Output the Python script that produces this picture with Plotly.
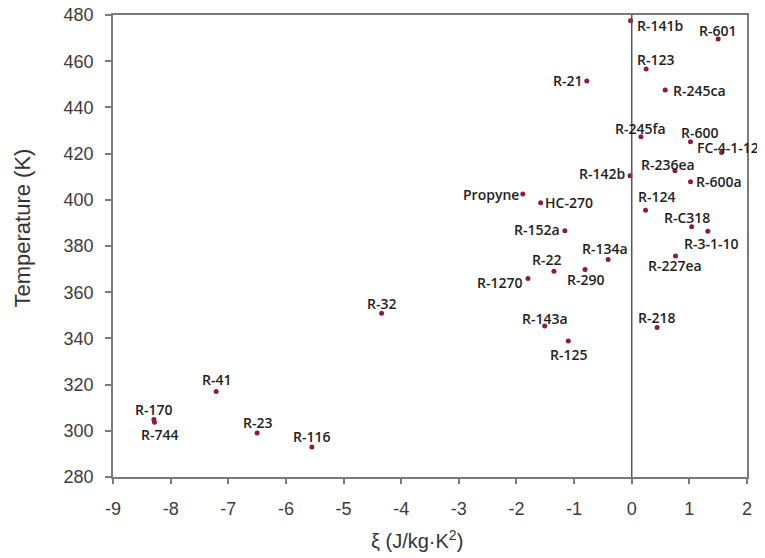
import plotly.graph_objects as go

# Refrigerant data: xi (J/kg·K²) vs temperature (K)
names = ["R-141b", "R-601", "R-123", "R-21", "R-245ca", "R-245fa", "R-600",
         "FC-4-1-12", "R-236ea", "R-142b", "R-600a", "Propyne", "HC-270",
         "R-124", "R-C318", "R-3-1-10", "R-152a", "R-227ea", "R-134a", "R-22",
         "R-290", "R-1270", "R-143a", "R-218", "R-125", "R-32", "R-41",
         "R-170", "R-744", "R-23", "R-116"]
xi = [-0.02, 1.50, 0.25, -0.78, 0.58, 0.16, 1.02,
      1.56, 0.75, -0.03, 1.02, -1.89, -1.58,
      0.24, 1.04, 1.32, -1.16, 0.76, -0.41, -1.35,
      -0.81, -1.80, -1.51, 0.44, -1.10, -4.34, -7.21,
      -8.29, -8.28, -6.50, -5.55]
temp = [477.5, 469.6, 456.6, 451.4, 447.5, 427.3, 425.1,
        420.5, 412.6, 410.4, 407.8, 402.5, 398.7,
        395.5, 388.3, 386.4, 386.6, 375.7, 374.2, 369.1,
        369.8, 365.9, 345.4, 344.7, 338.9, 350.9, 317.0,
        304.9, 303.7, 299.1, 293.0]
x_ticks = [-9, -8, -7, -6, -5, -4, -3, -2, -1, 0, 1, 2]
x_tick_labels = ["-9", "-8", "-7", "-6", "-5", "-4", "-3", "-2", "-1", "0", "1", "2"]
y_ticks = [280, 300, 320, 340, 360, 380, 400, 420, 440, 460, 480]

# label offsets in pixels (dx right, dy up) - styling only
label_dx = [29, -1, 9, -19, 34, 0, 9, 6, -7, -28, 28, -32, 28,
            11, -5, 3, -28, -1, -3, -7, 0, -28, 0, -1, 0, 0, 0, 0, 5, 0, 0]
label_dy = [-5, 9, 10, 1, 0, 8, 9, 5, 6, 2, 0, 0, 0,
            14, 9, -12, 1, -10, 11, 12, -10, -4, 7, 10, -14, 10, 12, 10, -12, 10, 10]

fig = go.Figure()
fig.add_trace(go.Scatter(
    x=xi, y=temp, mode="markers",
    marker=dict(color="#8e1b3d", size=5),
    hovertext=names, showlegend=False, cliponaxis=False))

# vertical line at xi = 0
fig.add_shape(type="line", x0=0, x1=0, y0=280, y1=480, xref="x", yref="y",
              line=dict(color="#555555", width=1.5))

axis_common = dict(showgrid=False, zeroline=False, showline=True,
                   linecolor="#7a7a7a", linewidth=1.8, mirror=True,
                   ticks="outside", tickcolor="#7a7a7a", tickwidth=1.5,
                   ticklabeloverflow="allow", automargin=False,
                   tickfont=dict(family="Liberation Sans", size=18, color="#3c3c3c"))

fig.update_layout(
    width=757, height=550,
    margin=dict(l=105, r=18, t=7, b=81, autoexpand=False),
    paper_bgcolor="white", plot_bgcolor="white",
    xaxis=dict(range=[-9, 2], tickvals=x_ticks, ticktext=x_tick_labels,
               ticklen=5, ticklabelstandoff=9, **axis_common),
    yaxis=dict(range=[280, 480], tickvals=y_ticks, ticklen=6, ticklabelstandoff=8,
               **axis_common),
)
for n, x, y, dx, dy in zip(names, xi, temp, label_dx, label_dy):
    fig.add_annotation(x=x, y=y, text=n, showarrow=False,
                       xshift=dx, yshift=dy,
                       font=dict(family="Open Sans", size=14, color="#1e1e1e", weight=600))

# axis titles
fig.add_annotation(x=0.48, y=-0.135, xref="paper", yref="paper",
                   text="ξ (J/kg·K<sup>2</sup>)", showarrow=False,
                   xanchor="center", yanchor="middle",
                   font=dict(family="Liberation Sans", size=20, color="#333333"))
fig.add_annotation(x=-0.142, y=0.54, xref="paper", yref="paper",
                   text="Temperature (K)", showarrow=False, textangle=-90,
                   xanchor="center", yanchor="middle",
                   font=dict(family="Liberation Sans", size=22, color="#333333"))

fig.write_html("out.html")
